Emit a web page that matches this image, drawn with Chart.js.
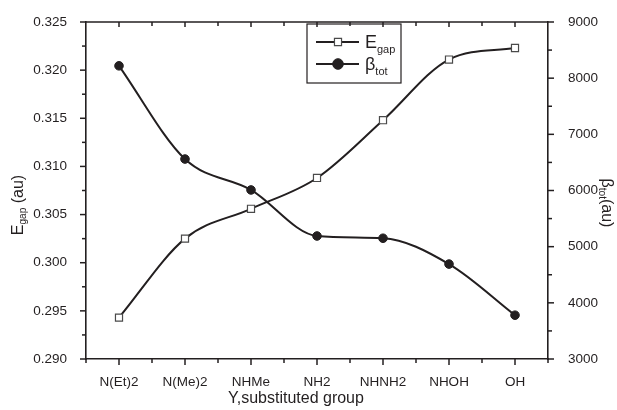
<!DOCTYPE html>
<html><head><meta charset="utf-8">
<script src="https://cdn.jsdelivr.net/npm/chart.js@4/dist/chart.umd.min.js"></script>
<style>html,body{margin:0;padding:0;background:#fff}#wrap{width:617px;height:410px}</style>
</head><body><div id="wrap"><canvas id="c" width="617" height="410"></canvas></div>
<script>
const categories = ['N(Et)2', 'N(Me)2', 'NHMe', 'NH2', 'NHNH2', 'NHOH', 'OH'];
const egapValues = [0.2943, 0.3025, 0.3056, 0.3088, 0.3148, 0.3211, 0.3223];
const betaValues = [8220, 6560, 6010, 5190, 5150, 4690, 3780];
const egapTicks = [0.290, 0.295, 0.300, 0.305, 0.310, 0.315, 0.320, 0.325];
const betaTicks = [3000, 4000, 5000, 6000, 7000, 8000, 9000];

const ink = '#231f20';
const FONT = 'Liberation Sans, Arial, Helvetica, sans-serif';

function drawSubText(ctx, parts, x, y, align) {
  let total = 0;
  parts.forEach(p => { ctx.font = p[1] + 'px ' + FONT; total += ctx.measureText(p[0]).width; });
  let cx = align === 'center' ? x - total / 2 : x;
  parts.forEach(p => {
    ctx.font = p[1] + 'px ' + FONT;
    ctx.fillText(p[0], cx, y + p[2]);
    cx += ctx.measureText(p[0]).width;
  });
}

const deco = {
  id: 'deco',
  afterDraw(chart) {
    const ctx = chart.ctx, a = chart.chartArea;
    const sx = chart.scales.x, sy = chart.scales.y, sr = chart.scales.y1;
    const seg = (x1, y1, x2, y2) => { ctx.beginPath(); ctx.moveTo(x1, y1); ctx.lineTo(x2, y2); ctx.stroke(); };
    ctx.save();
    ctx.strokeStyle = ink; ctx.lineWidth = 1.5;
    seg(a.left, a.top, a.right, a.top);
    egapTicks.forEach((v, k) => {
      const p = sy.getPixelForValue(v);
      seg(a.left - 6, p, a.left, p);
      if (k < egapTicks.length - 1) {
        const m = sy.getPixelForValue((v + egapTicks[k + 1]) / 2);
        seg(a.left - 4, m, a.left, m);
      }
    });
    betaTicks.forEach((v, k) => {
      const p = sr.getPixelForValue(v);
      seg(a.right, p, a.right + 6, p);
      if (k < betaTicks.length - 1) {
        const m = sr.getPixelForValue((v + betaTicks[k + 1]) / 2);
        seg(a.right, m, a.right + 4, m);
      }
    });
    for (let i = 0; i <= categories.length; i++) {
      const b = sx.getPixelForValue(i - 0.5);
      seg(b, a.bottom, b, a.bottom + 4);
      if (i > 0 && i < categories.length) seg(b, a.top, b, a.top + 4);
      if (i < categories.length) {
        const p = sx.getPixelForValue(i);
        seg(p, a.bottom, p, a.bottom + 6);
        seg(p, a.top, p, a.top + 5);
      }
    }
    ctx.fillStyle = ink;
    ctx.textBaseline = 'alphabetic';
    ctx.save();
    ctx.translate(23, 205);
    ctx.rotate(-Math.PI / 2);
    drawSubText(ctx, [['E', 16, 0], ['gap', 10, 3], [' (au)', 16, 0]], 0, 0, 'center');
    ctx.restore();
    ctx.save();
    ctx.translate(602, 203);
    ctx.rotate(Math.PI / 2);
    drawSubText(ctx, [['β', 16, 0], ['tot', 10, 3], ['(au)', 16, 0]], 0, 0, 'center');
    ctx.restore();
    drawSubText(ctx, [['Y,substituted group', 16, 0]], 296, 403, 'center');
    const lx = 307, ly = 24, lw = 94, lh = 59;
    ctx.lineWidth = 1.2;
    ctx.strokeRect(lx, ly, lw, lh);
    const ds = chart.data.datasets;
    const rows = [[ds[0], 42, [['E', 18, 0], ['gap', 11, 5]]], [ds[1], 64, [['β', 18, 0], ['tot', 11, 5]]]];
    rows.forEach(r => {
      const d = r[0], y = r[1];
      ctx.strokeStyle = d.borderColor; ctx.lineWidth = d.borderWidth;
      seg(lx + 9, y, lx + 52, y);
      ctx.fillStyle = d.pointBackgroundColor; ctx.strokeStyle = d.pointBorderColor;
      ctx.beginPath();
      if (d.pointStyle === 'rect') {
        const s = d.pointRadius * Math.SQRT1_2;
        ctx.rect(lx + 31 - s, y - s, 2 * s, 2 * s);
      } else {
        ctx.arc(lx + 31, y, d.pointRadius + 1, 0, Math.PI * 2);
      }
      ctx.fill(); ctx.lineWidth = d.pointBorderWidth; ctx.stroke();
      ctx.fillStyle = ink;
      drawSubText(ctx, r[2], lx + 58, y + 6, 'left');
    });
    ctx.restore();
  }
};

new Chart(document.getElementById('c'), {
  type: 'line',
  data: {
    labels: categories,
    datasets: [
      {
        label: 'Egap', data: egapValues, yAxisID: 'y',
        borderColor: ink, borderWidth: 2, cubicInterpolationMode: 'monotone',
        pointStyle: 'rect', pointRadius: 5, pointBorderWidth: 1.2,
        pointBackgroundColor: '#ffffff', pointBorderColor: '#4a4a4a'
      },
      {
        label: 'βtot', data: betaValues, yAxisID: 'y1',
        borderColor: ink, borderWidth: 2, cubicInterpolationMode: 'monotone',
        pointStyle: 'circle', pointRadius: 4.3, pointBorderWidth: 1,
        pointBackgroundColor: ink, pointBorderColor: ink
      }
    ]
  },
  options: {
    responsive: false, animation: false, devicePixelRatio: 1,
    layout: { padding: { top: 22, left: 0, right: 0, bottom: 0 } },
    plugins: { legend: { display: false }, tooltip: { enabled: false } },
    scales: {
      x: {
        type: 'category', offset: true,
        grid: { display: false },
        border: { display: true, color: ink, width: 1.6 },
        ticks: { color: ink, font: { family: FONT, size: 13.5 }, padding: 7, maxRotation: 0 },
        afterFit(s) { s.height = 51; }
      },
      y: {
        position: 'left', min: 0.290, max: 0.325,
        grid: { display: false },
        border: { display: true, color: ink, width: 1.6 },
        afterBuildTicks(s) { s.ticks = egapTicks.map(v => ({ value: v })); },
        ticks: { color: ink, font: { family: FONT, size: 13.5 }, padding: 11, callback: v => v.toFixed(3) },
        afterFit(s) { s.width = 86; }
      },
      y1: {
        position: 'right', min: 3000, max: 9000,
        grid: { display: false },
        border: { display: true, color: ink, width: 1.6 },
        afterBuildTicks(s) { s.ticks = betaTicks.map(v => ({ value: v })); },
        ticks: { color: ink, font: { family: FONT, size: 13.5 }, padding: 12, callback: v => String(v) },
        afterFit(s) { s.width = 69; }
      }
    }
  },
  plugins: [deco]
});
</script>
</body></html>
